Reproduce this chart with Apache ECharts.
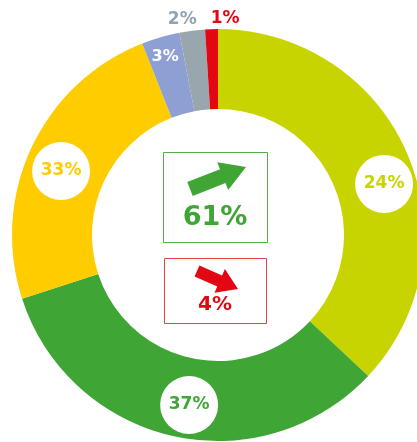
<!DOCTYPE html>
<html>
<head>
<meta charset="utf-8">
<script src="https://cdn.jsdelivr.net/npm/echarts@6/dist/echarts.min.js"></script>
<style>
html,body{margin:0;padding:0;background:#fff;}
#chart{width:417px;height:442px;}
</style>
</head>
<body>
<div id="chart"></div>
<script>
const categories = ['Segment A', 'Segment B', 'Segment C', 'Segment D', 'Segment E', 'Segment F'];
const shares = [37, 33, 24, 3, 2, 1];
const labelTexts = ['24%', '37%', '33%', '3%', '2%', '1%'];
const colors = ['#c8d400', '#3fa535', '#ffcc00', '#8e9fd3', '#9aa6ad', '#e30613'];
const trendValues = ['61%', '4%'];

// Layout
const CX = 218, CY = 235, R_IN = 126, R_OUT = 206;
const mainLabelShift = [[11, 16], [8, 5], [-4, 8]];
const innerLabelShift = { 3: [0, 4] };
const outerLabelShift = { 4: [-8, 4], 5: [14, 4] };
const FONT = '"DejaVu Sans", sans-serif';

const chart = echarts.init(document.getElementById('chart'), null, { renderer: 'canvas' });

function arrow(x0, y0, x1, y1, sw, hw, hl) {
  const dx = x1 - x0, dy = y1 - y0, L = Math.hypot(dx, dy);
  const ux = dx / L, uy = dy / L, nx = -uy, ny = ux;
  const bx = x1 - ux * hl, by = y1 - uy * hl;
  return [
    [x0 + nx * sw / 2, y0 + ny * sw / 2],
    [bx + nx * sw / 2, by + ny * sw / 2],
    [bx + nx * hw / 2, by + ny * hw / 2],
    [x1, y1],
    [bx - nx * hw / 2, by - ny * hw / 2],
    [bx - nx * sw / 2, by - ny * sw / 2],
    [x0 - nx * sw / 2, y0 - ny * sw / 2]
  ];
}

function shiftFn(map) {
  return function (p) {
    const s = map[p.dataIndex];
    return s ? { dx: s[0], dy: s[1] } : {};
  };
}

const mainData = shares.map((v, i) => ({
  name: categories[i],
  value: v,
  itemStyle: { color: colors[i] },
  label: i < 3 ? {
    show: true,
    position: 'inside',
    formatter: labelTexts[i],
    color: colors[i],
    fontFamily: FONT,
    fontWeight: 'bold',
    fontSize: 17,
    backgroundColor: '#ffffff',
    width: 58,
    height: 58,
    lineHeight: 58,
    borderRadius: 29,
    align: 'center',
    verticalAlign: 'middle'
  } : { show: false }
}));

const helperInner = shares.map((v, i) => ({
  name: categories[i],
  value: v,
  label: i === 3 ? {
    show: true, position: 'inside', formatter: labelTexts[i],
    color: '#ffffff', fontFamily: FONT, fontWeight: 'bold', fontSize: 16
  } : { show: false }
}));

const helperOuter = shares.map((v, i) => ({
  name: categories[i],
  value: v,
  label: (i === 4 || i === 5) ? {
    show: true, position: 'inside', formatter: labelTexts[i],
    color: i === 4 ? '#8fa4b3' : colors[i], fontFamily: FONT, fontWeight: 'bold', fontSize: 17
  } : { show: false }
}));

const helperBase = {
  type: 'pie',
  center: [CX, CY],
  startAngle: 90,
  clockwise: true,
  silent: true,
  animation: false,
  avoidLabelOverlap: false,
  labelLine: { show: false },
  itemStyle: { color: 'rgba(0,0,0,0)' },
  emphasis: { disabled: true }
};

const g1 = arrow(190, 189, 246, 167, 15, 30, 25);
const g2 = arrow(197, 271, 238, 289, 12, 26, 20);

chart.setOption({
  animation: false,
  backgroundColor: '#ffffff',
  series: [
    {
      type: 'pie',
      center: [CX, CY],
      radius: [R_IN, R_OUT],
      startAngle: 90,
      clockwise: true,
      animation: false,
      avoidLabelOverlap: false,
      labelLine: { show: false },
      emphasis: { disabled: true },
      labelLayout: shiftFn(mainLabelShift),
      data: mainData
    },
    Object.assign({}, helperBase, { radius: [167, R_OUT], data: helperInner, labelLayout: shiftFn(innerLabelShift) }),
    Object.assign({}, helperBase, { radius: [R_OUT, 230], data: helperOuter, labelLayout: shiftFn(outerLabelShift) })
  ],
  graphic: {
    elements: [
      { id: 'upBox', type: 'rect', shape: { x: 163.5, y: 152.5, width: 104, height: 90 }, style: { fill: 'rgba(0,0,0,0)', stroke: '#4fae45', lineWidth: 1 } },
      { id: 'upArrow', type: 'polygon', shape: { points: g1 }, style: { fill: '#3fa535' } },
      { id: 'upText', type: 'text', x: 215, y: 218, style: { text: trendValues[0], fill: '#3fa535', font: 'bold 27px ' + FONT, align: 'center', verticalAlign: 'middle' } },
      { id: 'downBox', type: 'rect', shape: { x: 164.5, y: 258.5, width: 102, height: 65 }, style: { fill: 'rgba(0,0,0,0)', stroke: '#e6404a', lineWidth: 1 } },
      { id: 'downArrow', type: 'polygon', shape: { points: g2 }, style: { fill: '#e30613' } },
      { id: 'downText', type: 'text', x: 215, y: 305, style: { text: trendValues[1], fill: '#e30613', font: 'bold 20px ' + FONT, align: 'center', verticalAlign: 'middle' } }
    ]
  }
});
</script>
</body>
</html>
